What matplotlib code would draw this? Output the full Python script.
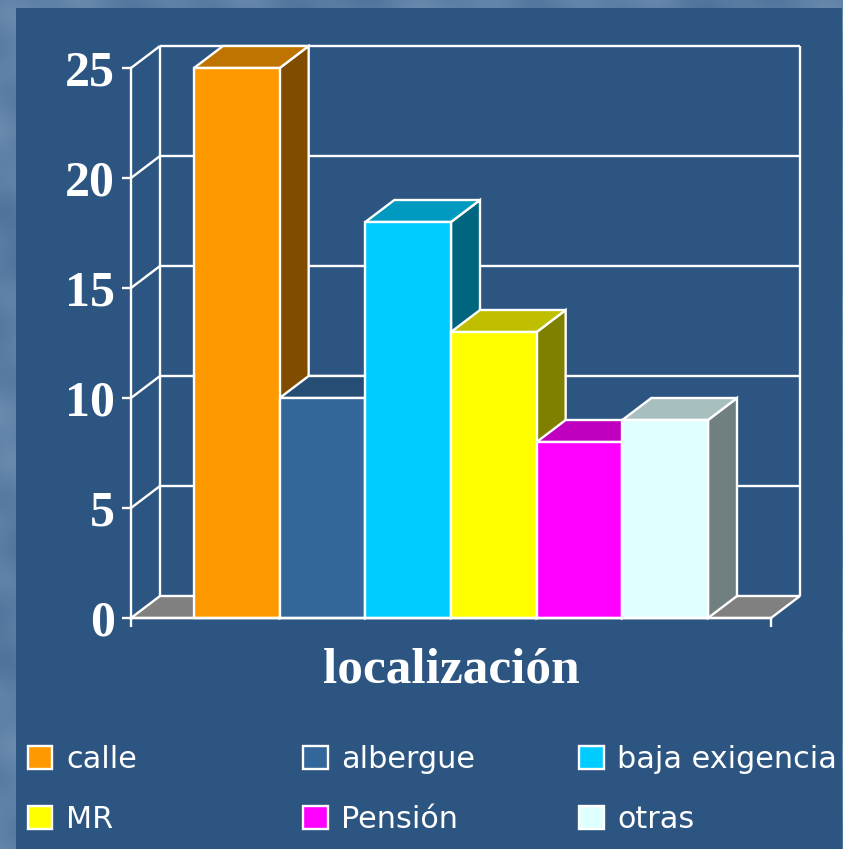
import numpy as np
import matplotlib
matplotlib.use("Agg")
import matplotlib.pyplot as plt
from matplotlib.patches import Polygon, Rectangle

categories = ["calle", "albergue", "baja exigencia", "MR", "Pensión", "otras"]
values = [25, 10, 18, 13, 8, 9]
front_colors = ["#FF9900", "#336699", "#00CCFF", "#FFFF00", "#FF00FF", "#E0FFFF"]
top_colors = ["#BF7300", "#264D73", "#0099BF", "#BFBF00", "#BF00BF", "#A8BFBF"]
side_colors = ["#804D00", "#1A3350", "#006680", "#808000", "#800080", "#708080"]
y_ticks = [0, 5, 10, 15, 20, 25]
x_label = "localización"

W, H = 843, 849
PANEL = "#2C5581"
LW = 1.7
fig = plt.figure(figsize=(W / 100, H / 100), dpi=100)

# mottled slide backdrop
yy, xx = np.mgrid[0:H, 0:W]
tex = (np.sin(xx / 31 + yy / 57) + np.sin(xx / 13 - yy / 23 + 1.3) + np.sin(yy / 9 + xx / 70) * 0.6)
tex = (tex - tex.min()) / (tex.max() - tex.min())
c0, c1 = np.array([0x4E, 0x72, 0x9B]) / 255, np.array([0x6B, 0x8B, 0xAF]) / 255
fig.figimage(c0 + (c1 - c0) * tex[..., None], zorder=0)
fig.add_artist(Rectangle((16 / W, 0), (842 - 16) / W, (849 - 8) / H, transform=fig.transFigure,
                         fc=PANEL, ec="none", zorder=0.5))

# Axes = front plane of the 3-D box
left, right, top, bot = 131, 771, 68, 618
ax = fig.add_axes([left / W, 1 - bot / H, (right - left) / W, (bot - top) / H], zorder=1)
ax.patch.set_visible(False)
barw = 1.0
unit = (708 - 194) / 6
xmin = -(194 - left) / unit
xmax = xmin + (right - left) / unit
ax.set_xlim(xmin, xmax)
ax.set_ylim(0, 25)
dx = 29 / unit
dy = 1.0  # 22 px

line = dict(color="white", lw=LW, clip_on=False, solid_capstyle="butt")
# floor
ax.add_patch(Polygon([(xmin, 0), (xmax, 0), (xmax + dx, dy), (xmin + dx, dy)], closed=True,
                     fc="#808080", ec="white", lw=LW, clip_on=False, zorder=1))
# back wall and side wall
for v in y_ticks[1:]:
    ax.plot([xmin + dx, xmax + dx], [v + dy, v + dy], zorder=1, **line)
for v in y_ticks[1:]:
    ax.plot([xmin, xmin + dx], [v, v + dy], zorder=1, **line)
ax.plot([xmin + dx, xmin + dx], [dy, 25 + dy], zorder=1, **line)
ax.plot([xmax + dx, xmax + dx], [dy, 25 + dy], zorder=1, **line)

# bars, painted left to right
for i, (v, fc, tc, sc) in enumerate(zip(values, front_colors, top_colors, side_colors)):
    z = 2 + i * 0.1
    kw = dict(closed=True, ec="white", lw=LW, clip_on=False, zorder=z, joinstyle="miter")
    ax.add_patch(Polygon([(i + barw, 0), (i + barw + dx, dy), (i + barw + dx, v + dy), (i + barw, v)], fc=sc, **kw))
    ax.add_patch(Polygon([(i, v), (i + barw, v), (i + barw + dx, v + dy), (i + dx, v + dy)], fc=tc, **kw))
    ax.bar(i, v, width=barw, align="edge", color=fc, edgecolor="white", linewidth=LW, clip_on=False, zorder=z)

for s in ["top", "right"]:
    ax.spines[s].set_visible(False)
for s in ["left", "bottom"]:
    ax.spines[s].set_color("white")
    ax.spines[s].set_linewidth(LW)
    ax.spines[s].set_zorder(5)
ax.set_yticks(y_ticks)
ax.set_xticks([xmin, xmax])
ax.set_xticklabels([])
ax.tick_params(axis="both", color="white", width=LW, length=6.5, zorder=5)
ax.tick_params(axis="y", labelcolor="white", pad=5)
serif = dict(family="Liberation Serif", weight="bold", color="white")
for t in ax.get_yticklabels():
    t.set(fontsize=36, **serif)
ax.set_xlabel(x_label, fontsize=37, labelpad=11, **serif)

# legend
col_x = [28, 303, 579]
row_y = [746, 806]
for i, (name, fc) in enumerate(zip(categories, front_colors)):
    x0, y0 = col_x[i % 3], row_y[i // 3]
    fig.add_artist(Rectangle((x0 / W, 1 - (y0 + 23) / H), 24.5 / W, 23 / H, transform=fig.transFigure,
                             fc=fc, ec="white", lw=LW, zorder=3))
    fig.text((x0 + 38) / W, 1 - (y0 + 14) / H, name, color="white", fontsize=21.8, family="DejaVu Sans",
             va="center", ha="left", zorder=3)

fig.savefig("out.png", dpi=100, facecolor=PANEL)
